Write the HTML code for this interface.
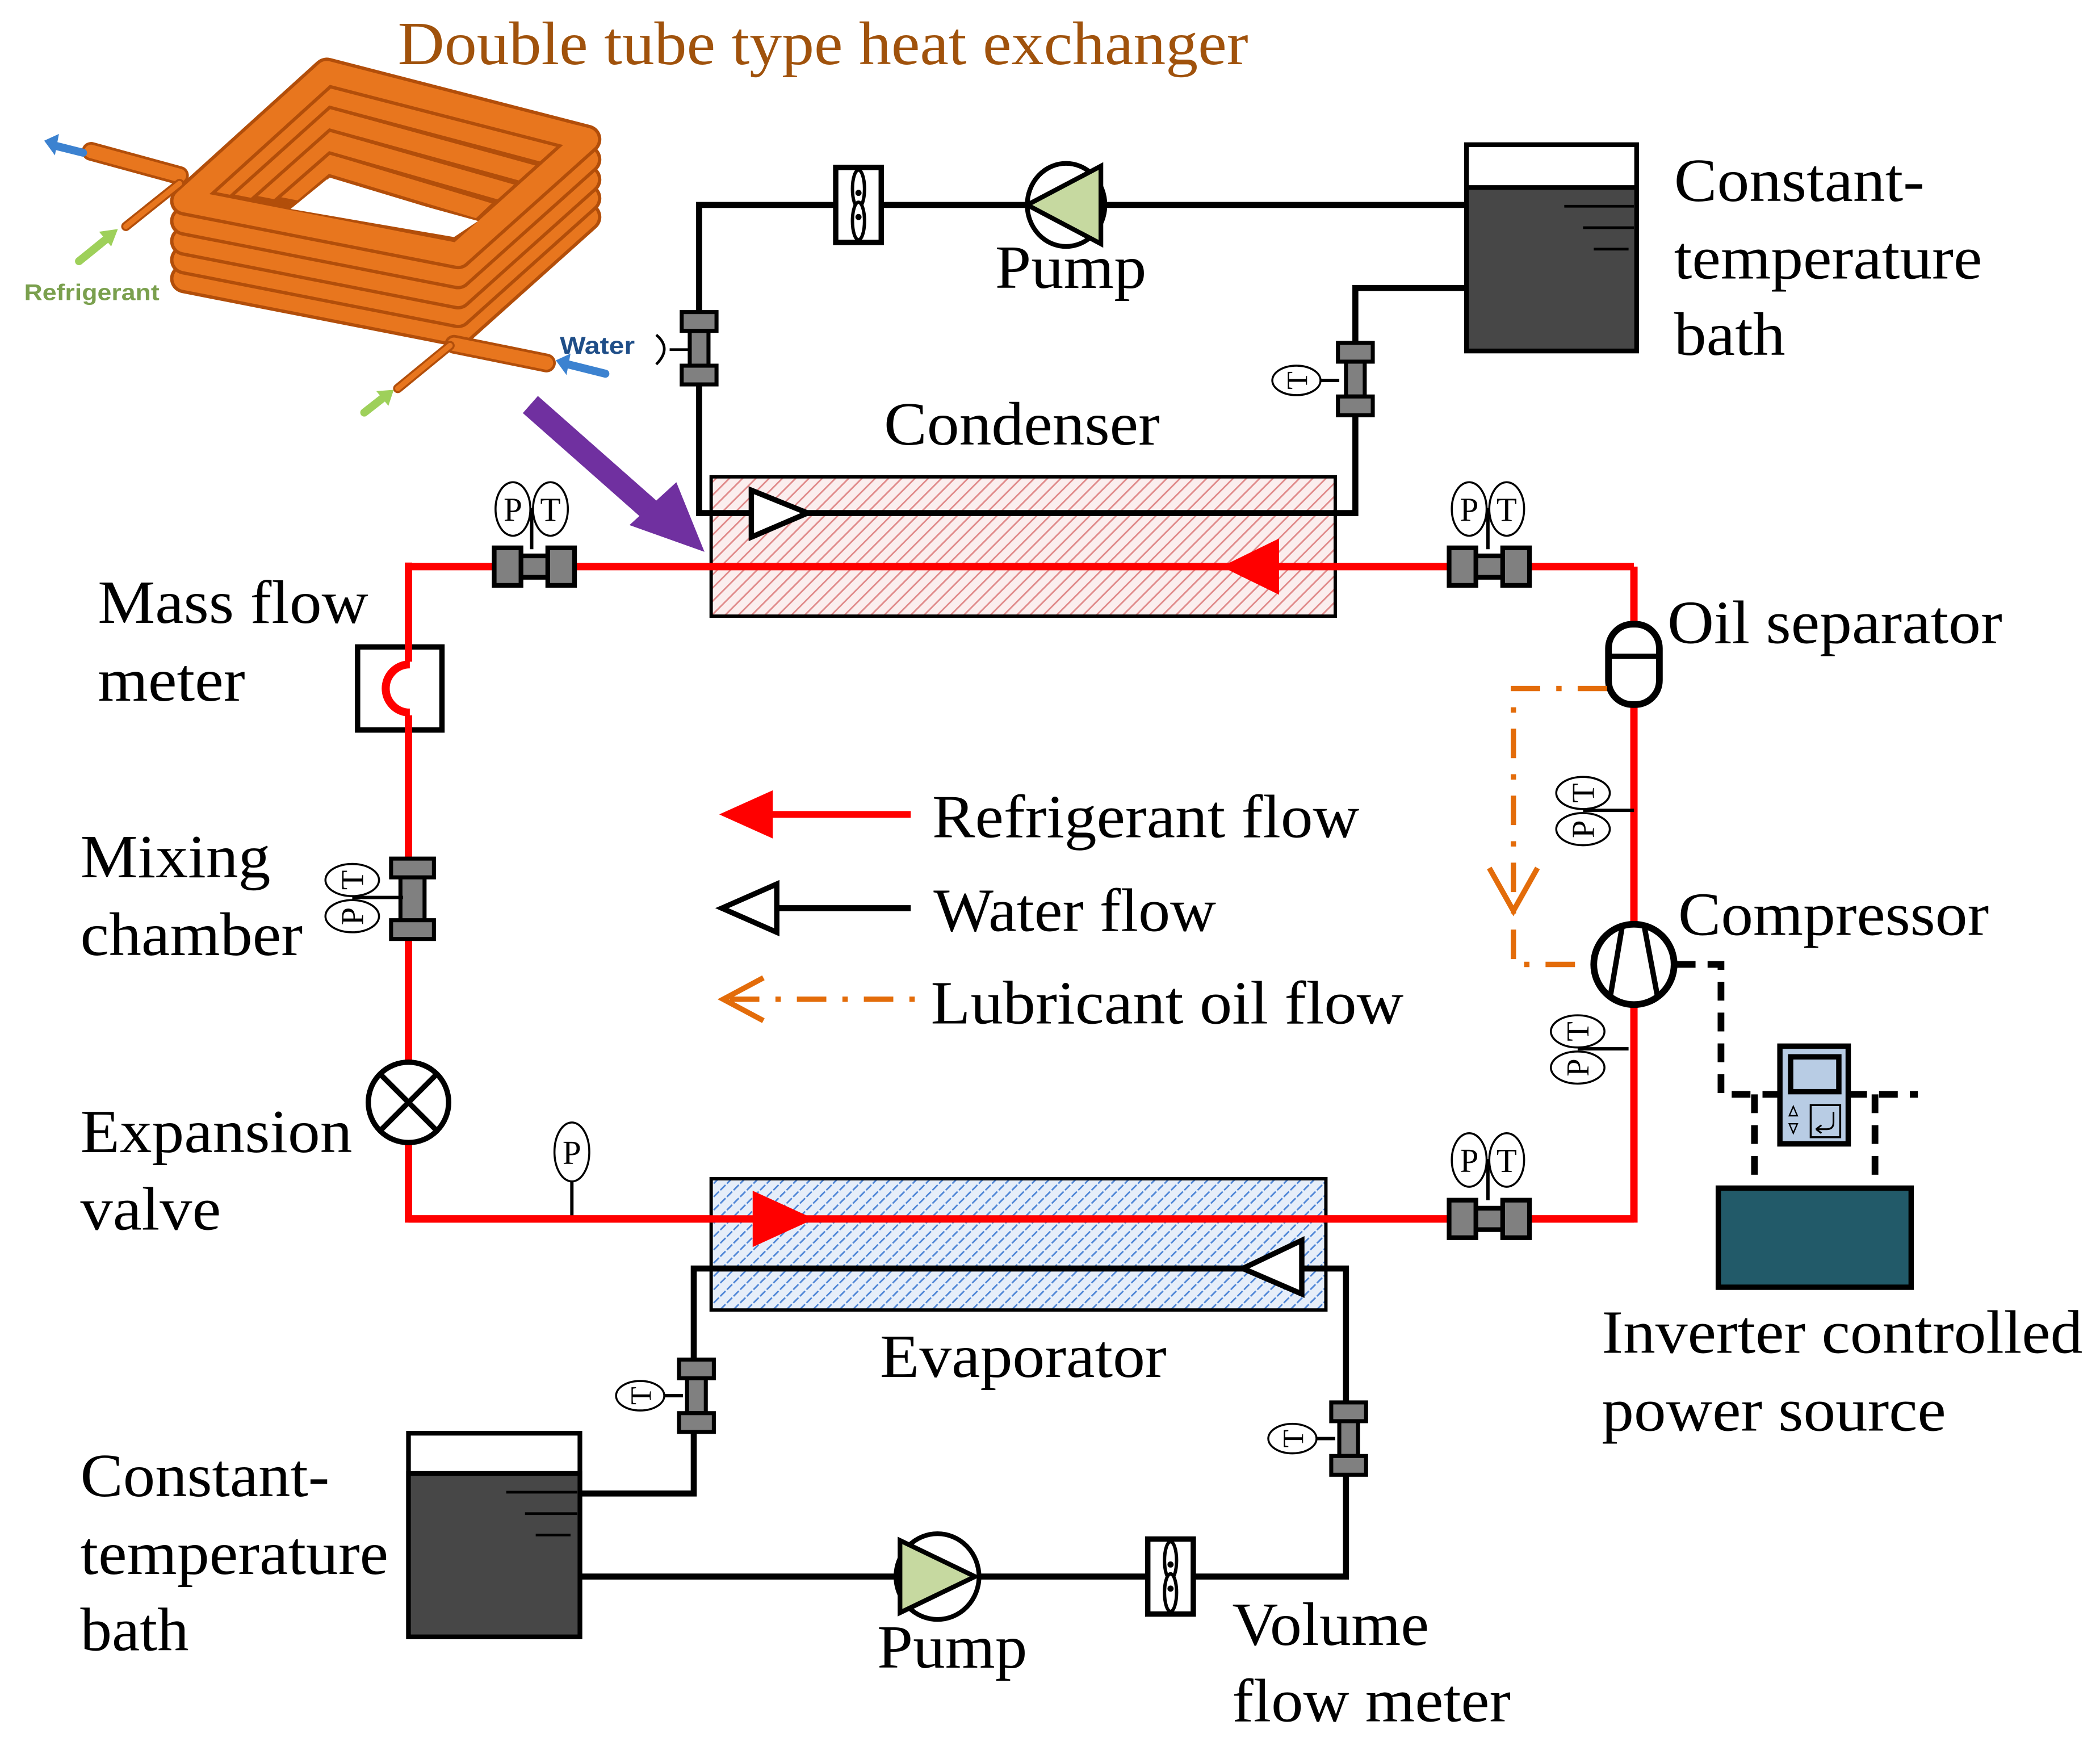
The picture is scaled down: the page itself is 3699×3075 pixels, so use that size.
<!DOCTYPE html>
<html><head><meta charset="utf-8"><style>
html,body{margin:0;padding:0;background:#fff;}
svg{display:block;}
text{font-family:"Liberation Serif",serif;}
</style></head><body>
<svg width="3699" height="3075" viewBox="0 0 1568 1303.5" preserveAspectRatio="none" xmlns="http://www.w3.org/2000/svg">
<defs>
<pattern id="hr" width="7" height="7" patternUnits="userSpaceOnUse" patternTransform="rotate(45)">
<rect width="7" height="7" fill="#fbeeee"/><line x1="0" y1="0" x2="0" y2="7" stroke="#e08a8a" stroke-width="2.4"/></pattern>
<pattern id="hb" width="7" height="7" patternUnits="userSpaceOnUse" patternTransform="rotate(45)">
<rect width="7" height="7" fill="#e6eef9"/><line x1="0" y1="0" x2="0" y2="7" stroke="#4f86d6" stroke-width="2.4" stroke-dasharray="3 1.5"/></pattern>
<g id="vfit" stroke="#000" stroke-width="3" fill="#808080">
<rect x="-7" y="-13" width="14" height="26"/><rect x="-13" y="-27" width="26" height="14"/><rect x="-13" y="13" width="26" height="14"/></g>
<g id="hfit" stroke="#000" stroke-width="3.5" fill="#808080">
<rect x="-11" y="-8" width="22" height="16"/><rect x="-30" y="-14" width="20" height="28"/><rect x="10" y="-14" width="20" height="28"/></g>
<g id="pt" fill="#fff" stroke="#000" stroke-width="1.5">
<line x1="14" y1="0" x2="14" y2="30" stroke-width="2.5"/><line x1="0" y1="0" x2="28" y2="0"/>
<ellipse cx="0" cy="0" rx="13" ry="20"/><ellipse cx="28" cy="0" rx="13" ry="20"/>
<text x="0" y="9" font-size="25" text-anchor="middle" fill="#000" stroke="none">P</text>
<text x="28" y="9" font-size="25" text-anchor="middle" fill="#000" stroke="none">T</text></g>
<g id="ptv" fill="#fff" stroke="#000" stroke-width="1.5">
<line x1="0" y1="13" x2="38" y2="13" stroke-width="2.5"/>
<ellipse cx="0" cy="0" rx="20" ry="12"/><ellipse cx="0" cy="27" rx="20" ry="12"/>
<text transform="translate(8,0) rotate(-90)" x="0" y="0" font-size="24" text-anchor="middle" fill="#000" stroke="none">T</text>
<text transform="translate(8,27) rotate(-90)" x="0" y="0" font-size="24" text-anchor="middle" fill="#000" stroke="none">P</text></g>
<g id="tsen" fill="#fff" stroke="#000" stroke-width="1.5">
<line x1="16" y1="0" x2="32" y2="0" stroke-width="2.5"/>
<ellipse cx="0" cy="0" rx="18" ry="11"/>
<text transform="translate(8,0) rotate(-90)" font-size="22" text-anchor="middle" fill="#000" stroke="none">T</text></g>
<g id="fm" stroke="#000" fill="#fff">
<rect x="-17" y="-28" width="34" height="56" stroke-width="4"/>
<ellipse cx="0" cy="-12" rx="4.5" ry="14" stroke-width="2.5"/><ellipse cx="0" cy="12" rx="4.5" ry="14" stroke-width="2.5"/>
<circle cx="0" cy="-9" r="1.8" fill="#000"/><circle cx="0" cy="9" r="1.8" fill="#000"/></g>
</defs>

<!-- Heat exchanger illustration -->
<g stroke-linecap="round" stroke-linejoin="round" fill="none">
<polyline points="138,208 342,248 438,162" stroke="#b24e0a" stroke-width="22"/>
<polyline points="138,208 342,248 438,162" stroke="#e8761e" stroke-width="17"/>
<polyline points="138,194 342,234 438,148" stroke="#b24e0a" stroke-width="22"/>
<polyline points="138,194 342,234 438,148" stroke="#e8761e" stroke-width="17"/>
<polyline points="138,180 342,220 438,134" stroke="#b24e0a" stroke-width="22"/>
<polyline points="138,180 342,220 438,134" stroke="#e8761e" stroke-width="17"/>
<polyline points="138,165 342,205 438,119" stroke="#b24e0a" stroke-width="22"/>
<polyline points="138,165 342,205 438,119" stroke="#e8761e" stroke-width="17"/>
<polygon points="244,122 370,160 350,180 206,154" stroke="#b24e0a" stroke-width="19"/>
<polygon points="244,122 370,160 350,180 206,154" stroke="#e8761e" stroke-width="14"/>
<polygon points="244,105 387,146 348,183 189,153" stroke="#b24e0a" stroke-width="19"/>
<polygon points="244,105 387,146 348,183 189,153" stroke="#e8761e" stroke-width="14"/>
<polygon points="244,88 404,132 346,186 172,152" stroke="#b24e0a" stroke-width="19"/>
<polygon points="244,88 404,132 346,186 172,152" stroke="#e8761e" stroke-width="14"/>
<polygon points="244,71 421,118 344,188 155,151" stroke="#b24e0a" stroke-width="19"/>
<polygon points="244,71 421,118 344,188 155,151" stroke="#e8761e" stroke-width="14"/>
<polygon points="244,54 438,104 342,190 138,150" stroke="#b24e0a" stroke-width="22"/>
<polygon points="244,54 438,104 342,190 138,150" stroke="#e8761e" stroke-width="17"/>
</g>
<polygon points="244,134 357,165 339,177 217,156" fill="#fff"/>
<g stroke-linecap="round" fill="none">
<line x1="68" y1="113" x2="134" y2="131" stroke="#b24e0a" stroke-width="14"/>
<line x1="68" y1="113" x2="134" y2="131" stroke="#e8761e" stroke-width="10"/>
<line x1="94" y1="169" x2="134" y2="137" stroke="#b24e0a" stroke-width="7"/>
<line x1="94" y1="169" x2="134" y2="137" stroke="#e8761e" stroke-width="4"/>
<line x1="339" y1="257" x2="408" y2="271" stroke="#b24e0a" stroke-width="14"/>
<line x1="339" y1="257" x2="408" y2="271" stroke="#e8761e" stroke-width="10"/>
<line x1="297" y1="290" x2="336" y2="258" stroke="#b24e0a" stroke-width="7"/>
<line x1="297" y1="290" x2="336" y2="258" stroke="#e8761e" stroke-width="4"/>
</g>
<g stroke-width="6" stroke-linecap="round">
<line x1="62" y1="114" x2="42" y2="109" stroke="#3c82d0"/>
<polygon points="33,105 44,100 41,116" fill="#3c82d0"/>
<line x1="59" y1="195" x2="80" y2="178" stroke="#9ed05a"/>
<polygon points="88,171 74,173 83,184" fill="#9ed05a"/>
<line x1="452" y1="279" x2="424" y2="272" stroke="#3c82d0"/>
<polygon points="415,269 426,264 423,280" fill="#3c82d0"/>
<line x1="272" y1="308" x2="286" y2="297" stroke="#9ed05a"/>
<polygon points="294,291 281,292 290,303" fill="#9ed05a"/>
</g>
<text x="18" y="224" font-weight="bold" font-size="17" fill="#7aa04e" textLength="101" lengthAdjust="spacingAndGlyphs" style="font-family:'Liberation Sans',sans-serif">Refrigerant</text>
<text x="418" y="264" font-weight="bold" font-size="18" fill="#1f4e88" textLength="56" lengthAdjust="spacingAndGlyphs" style="font-family:'Liberation Sans',sans-serif">Water</text>
<text x="297" y="48" font-size="46" fill="#a0520c" textLength="635" lengthAdjust="spacingAndGlyphs">Double tube type heat exchanger</text>

<!-- Purple arrow -->
<line x1="396" y1="302" x2="490" y2="385" stroke="#7030a0" stroke-width="17"/>
<polygon points="526,412 470,392 505,360" fill="#7030a0"/>

<!-- Condenser -->
<rect x="531" y="356" width="466" height="104" fill="url(#hr)" stroke="#000" stroke-width="2.5"/>
<polyline points="1095,153 522,153 522,383 1012,383 1012,215 1095,215" fill="none" stroke="#000" stroke-width="4.5"/>
<polygon points="561,366 603,383 561,401" fill="#fff" stroke="#000" stroke-width="4"/>
<use href="#fm" x="641" y="153"/>
<ellipse cx="796" cy="153" rx="29" ry="31" fill="#fff" stroke="#000" stroke-width="3.5"/>
<polygon points="767,153 822,124 822,182" fill="#c6d9a0" stroke="#000" stroke-width="3.5"/>
<use href="#vfit" x="522" y="260"/>
<path d="M490,250 Q502,260 490,272" fill="none" stroke="#000" stroke-width="2"/>
<line x1="500" y1="261" x2="515" y2="261" stroke="#000" stroke-width="2"/>
<use href="#vfit" x="1012" y="283"/>
<use href="#tsen" x="968" y="284"/>
<rect x="1095" y="108" width="127" height="154" fill="#fff" stroke="#000" stroke-width="3.5"/>
<rect x="1095" y="140" width="127" height="122" fill="#474747" stroke="#000" stroke-width="3.5"/>
<g stroke="#000" stroke-width="2"><line x1="1168" y1="154" x2="1220" y2="154"/><line x1="1182" y1="170" x2="1220" y2="170"/><line x1="1190" y1="186" x2="1216" y2="186"/></g>

<!-- Refrigerant loop -->
<polyline points="1220,423 305,423 305,910 1220,910 1220,423" fill="none" stroke="#ff0000" stroke-width="5.5"/>
<polygon points="912,423 955,402 955,444" fill="#ff0000"/>
<use href="#hfit" x="399" y="423"/><use href="#pt" x="383" y="380"/>
<use href="#hfit" x="1112" y="423"/><use href="#pt" x="1097" y="380"/>
<rect x="267" y="483" width="63" height="62" fill="#fff" stroke="#000" stroke-width="4"/>
<path d="M306,496 A18,18 0 0 0 306,532" fill="none" stroke="#ff0000" stroke-width="6"/>
<line x1="305" y1="420" x2="305" y2="494" stroke="#ff0000" stroke-width="5.5"/>
<line x1="305" y1="534" x2="305" y2="600" stroke="#ff0000" stroke-width="5.5"/>
<g stroke="#000" stroke-width="3" fill="#808080"><rect x="299" y="654" width="18" height="34"/><rect x="292" y="641" width="32" height="14"/><rect x="292" y="687" width="32" height="14"/></g>
<use href="#ptv" x="263" y="657"/>
<circle cx="305" cy="823" r="30" fill="#fff" stroke="#000" stroke-width="4"/>
<g stroke="#000" stroke-width="4"><line x1="284" y1="802" x2="326" y2="844"/><line x1="326" y1="802" x2="284" y2="844"/></g>
<line x1="427" y1="880" x2="427" y2="910" stroke="#000" stroke-width="2.5"/>
<ellipse cx="427" cy="860" rx="13" ry="22" fill="#fff" stroke="#000" stroke-width="1.5"/>
<text x="427" y="869" font-size="25" text-anchor="middle">P</text>

<!-- Evaporator -->
<rect x="531" y="880" width="459" height="98" fill="url(#hb)" stroke="#000" stroke-width="2.5"/>
<line x1="305" y1="910" x2="1220" y2="910" stroke="#ff0000" stroke-width="5.5"/>
<polygon points="608,910 562,889 562,931" fill="#ff0000"/>
<polyline points="433,1115 518,1115 518,947 1005,947 1005,1177 433,1177" fill="none" stroke="#000" stroke-width="4.5"/>
<polygon points="928,947 972,926 972,966" fill="#fff" stroke="#000" stroke-width="4"/>
<use href="#hfit" x="1112" y="910"/><use href="#pt" x="1097" y="866"/>
<use href="#vfit" x="520" y="1042"/><use href="#tsen" x="478" y="1042"/>
<use href="#vfit" x="1007" y="1074"/><use href="#tsen" x="965" y="1074"/>
<ellipse cx="700" cy="1177" rx="31" ry="32" fill="#fff" stroke="#000" stroke-width="3.5"/>
<polygon points="672,1150 672,1204 728,1177" fill="#c6d9a0" stroke="#000" stroke-width="3.5"/>
<use href="#fm" x="874" y="1177"/>
<rect x="305" y="1070" width="128" height="152" fill="#fff" stroke="#000" stroke-width="3.5"/>
<rect x="305" y="1100" width="128" height="122" fill="#474747" stroke="#000" stroke-width="3.5"/>
<g stroke="#000" stroke-width="2"><line x1="378" y1="1114" x2="431" y2="1114"/><line x1="392" y1="1130" x2="431" y2="1130"/><line x1="400" y1="1146" x2="426" y2="1146"/></g>

<!-- Right side -->
<rect x="1201" y="466" width="38" height="60" rx="18" fill="#fff" stroke="#000" stroke-width="5"/>
<line x1="1201" y1="490" x2="1239" y2="490" stroke="#000" stroke-width="4"/>
<use href="#ptv" x="1182" y="592"/>
<use href="#ptv" x="1178" y="770"/>
<polyline points="1200,514 1130,514 1130,720 1190,720" fill="none" stroke="#e36c0a" stroke-width="4" stroke-dasharray="22 12 4 12"/>
<polyline points="1112,648 1130,680 1148,648" fill="none" stroke="#e36c0a" stroke-width="4"/>
<circle cx="1220" cy="720" r="30" fill="#fff" stroke="#000" stroke-width="5"/>
<g stroke="#000" stroke-width="4"><line x1="1211" y1="693" x2="1202" y2="746"/><line x1="1228" y1="693" x2="1238" y2="746"/></g>
<g fill="none" stroke="#000" stroke-width="5" stroke-dasharray="14 9">
<polyline points="1252,720 1285,720 1285,817 1330,817"/>
<polyline points="1310,817 1310,887"/>
<polyline points="1380,817 1432,817"/>
<polyline points="1400,817 1400,887"/>
</g>
<rect x="1329" y="781" width="51" height="73" fill="#b8cce4" stroke="#000" stroke-width="4"/>
<rect x="1337" y="789" width="36" height="26" fill="#b8cce4" stroke="#000" stroke-width="4"/>
<rect x="1352" y="825" width="22" height="24" fill="none" stroke="#000" stroke-width="1.5"/>
<path d="M1369,830 v8 q0,5 -5,5 h-7 M1356,843 l4,-3 M1356,843 l4,3" fill="none" stroke="#000" stroke-width="1.3"/>
<polygon points="1339,826 1342,833 1336,833" fill="none" stroke="#000" stroke-width="1"/>
<polygon points="1339,846 1342,839 1336,839" fill="none" stroke="#000" stroke-width="1"/>
<rect x="1283" y="887" width="144" height="74" fill="#225a69" stroke="#000" stroke-width="4"/>

<!-- Legend -->
<line x1="570" y1="608" x2="680" y2="608" stroke="#ff0000" stroke-width="5"/>
<polygon points="537,608 577,590 577,626" fill="#ff0000"/>
<line x1="578" y1="678" x2="680" y2="678" stroke="#000" stroke-width="4.5"/>
<polygon points="539,678 580,660 580,696" fill="#fff" stroke="#000" stroke-width="4"/>
<line x1="545" y1="746" x2="690" y2="746" stroke="#e36c0a" stroke-width="4" stroke-dasharray="22 12 4 12"/>
<polyline points="570,730 540,746 570,762" fill="none" stroke="#e36c0a" stroke-width="4"/>

<!-- Labels -->
<g font-size="46" fill="#000">
<text x="696" y="625" textLength="319" lengthAdjust="spacingAndGlyphs">Refrigerant flow</text>
<text x="697" y="695" textLength="211" lengthAdjust="spacingAndGlyphs">Water flow</text>
<text x="695" y="764" textLength="353" lengthAdjust="spacingAndGlyphs">Lubricant oil flow</text>
<text x="743" y="215" textLength="113" lengthAdjust="spacingAndGlyphs">Pump</text>
<text x="660" y="332" textLength="206" lengthAdjust="spacingAndGlyphs">Condenser</text>
<text x="1250" y="150" textLength="187" lengthAdjust="spacingAndGlyphs">Constant-</text>
<text x="1250" y="208" textLength="230" lengthAdjust="spacingAndGlyphs">temperature</text>
<text x="1250" y="265" textLength="83" lengthAdjust="spacingAndGlyphs">bath</text>
<text x="1245" y="480" textLength="250" lengthAdjust="spacingAndGlyphs">Oil separator</text>
<text x="1253" y="698" textLength="232" lengthAdjust="spacingAndGlyphs">Compressor</text>
<text x="73" y="465" textLength="202" lengthAdjust="spacingAndGlyphs">Mass flow</text>
<text x="73" y="523" textLength="110" lengthAdjust="spacingAndGlyphs">meter</text>
<text x="60" y="655" textLength="142" lengthAdjust="spacingAndGlyphs">Mixing</text>
<text x="60" y="713" textLength="166" lengthAdjust="spacingAndGlyphs">chamber</text>
<text x="60" y="860" textLength="203" lengthAdjust="spacingAndGlyphs">Expansion</text>
<text x="60" y="918" textLength="105" lengthAdjust="spacingAndGlyphs">valve</text>
<text x="657" y="1028" textLength="214" lengthAdjust="spacingAndGlyphs">Evaporator</text>
<text x="1196" y="1010" textLength="359" lengthAdjust="spacingAndGlyphs">Inverter controlled</text>
<text x="1196" y="1068" textLength="257" lengthAdjust="spacingAndGlyphs">power source</text>
<text x="60" y="1117" textLength="186" lengthAdjust="spacingAndGlyphs">Constant-</text>
<text x="60" y="1175" textLength="230" lengthAdjust="spacingAndGlyphs">temperature</text>
<text x="60" y="1232" textLength="81" lengthAdjust="spacingAndGlyphs">bath</text>
<text x="655" y="1245" textLength="112" lengthAdjust="spacingAndGlyphs">Pump</text>
<text x="920" y="1228" textLength="147" lengthAdjust="spacingAndGlyphs">Volume</text>
<text x="920" y="1285" textLength="208" lengthAdjust="spacingAndGlyphs">flow meter</text>
</g>
</svg>
</body></html>
